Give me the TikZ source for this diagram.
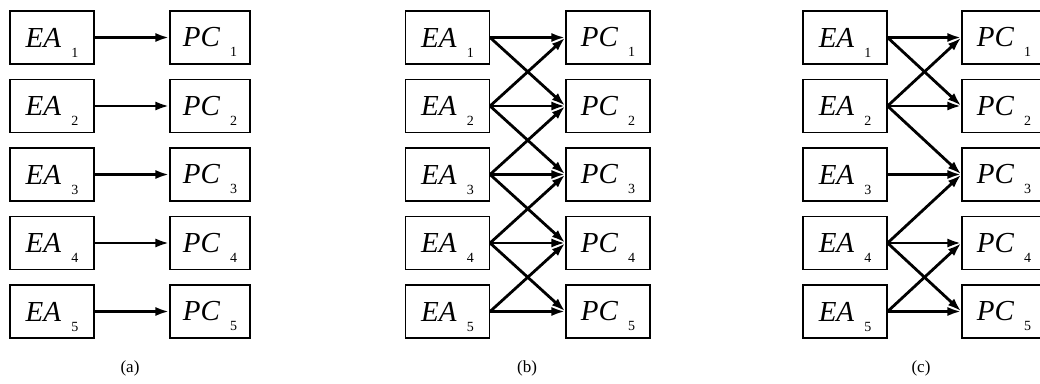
\documentclass[tikz,border=0pt]{standalone}
\usepackage{fontspec}
\setmainfont{Liberation Serif}
\usetikzlibrary{arrows.meta}
\newcommand{\lbl}[2]{\fontsize{29}{29}\selectfont\textit{#1}\hspace{10pt}\raisebox{-10pt}[0pt][0pt]{\fontsize{14}{14}\selectfont #2}}
\tikzset{
  box/.style={draw=black, line width=1.1pt, minimum width=84pt, minimum height=53pt, inner sep=0pt, fill=white},
  arr/.style={line width=2.8pt, -{Latex[length=14pt,width=9pt]}},
  captext/.style={font=\fontsize{17}{17}\selectfont, inner sep=0pt}
}
\begin{document}
\begin{tikzpicture}[x=1pt,y=-1pt]
\useasboundingbox (0,0) rectangle (1040,383);
\fill[white] (0,0) rectangle (1040,383);
% panel (a)
\foreach \i in {1,...,5} {
  \node[box] (aE\i) at (52,{37.5+68.5*(\i-1)}) {\lbl{EA}{\i}};
  \node[box, minimum width=80pt] (aP\i) at (210,{37.5+68.5*(\i-1)}) {\lbl{PC}{\i}};
}
% panel (b)
\foreach \i in {1,...,5} {
  \node[box] (bE\i) at (447.5,{37.5+68.5*(\i-1)}) {\lbl{EA}{\i}};
  \node[box] (bP\i) at (608,{37.5+68.5*(\i-1)}) {\lbl{PC}{\i}};
}
% panel (c)
\foreach \i in {1,...,5} {
  \node[box] (cE\i) at (845,{37.5+68.5*(\i-1)}) {\lbl{EA}{\i}};
  \node[box] (cP\i) at (1004,{37.5+68.5*(\i-1)}) {\lbl{PC}{\i}};
}
% arrows (a)
\foreach \i in {1,...,5} {
  \draw[arr] (aE\i.east) -- (aP\i.west);
}
% arrows (b)
\foreach \s/\t in {1/1,1/2,2/1,2/2,2/3,3/2,3/3,3/4,4/3,4/4,4/5,5/4,5/5} {
  \draw[arr] (bE\s.east) -- (bP\t.west);
}
% arrows (c)
\foreach \s/\t in {1/1,1/2,2/1,2/2,2/3,3/3,4/3,4/4,4/5,5/4,5/5} {
  \draw[arr] (cE\s.east) -- (cP\t.west);
}
% captions
\node[captext] (capa) at (130,368) {(a)};
\node[captext] (capb) at (527,368) {(b)};
\node[captext] (capc) at (921,368) {(c)};
\end{tikzpicture}
\end{document}
